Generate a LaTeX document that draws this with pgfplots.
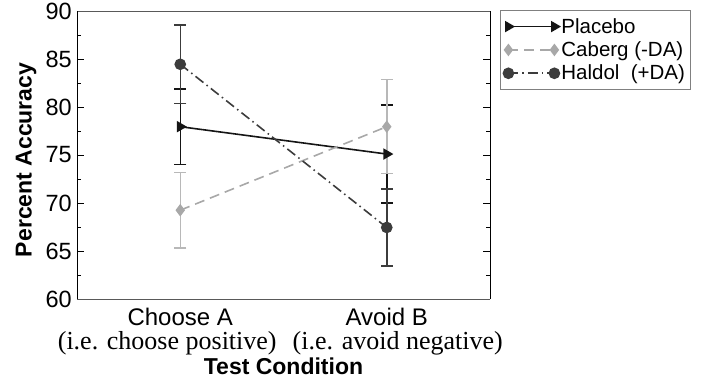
\documentclass[border=0pt]{standalone}
\usepackage{fontspec}
\setmainfont{Liberation Sans}
\newfontfamily\timesfont{Liberation Serif}
\usepackage{pgfplots}
\pgfplotsset{compat=1.18}
\definecolor{haldol}{HTML}{3C3C3C}
\definecolor{caberg}{HTML}{A8A8A8}
\definecolor{cabergerr}{HTML}{B8B8B8}
\definecolor{placebo}{HTML}{151515}
\begin{document}
\begin{tikzpicture}
\path[use as bounding box] (0,0) rectangle (703pt,382pt);
\begin{axis}[
  at={(77pt,83pt)}, anchor=south west,
  scale only axis, width=413pt, height=288pt,
  xmin=-0.5, xmax=1.5, ymin=60, ymax=90,
  xtick={0,1},
  xticklabels={{Choose A\\[-1pt]{\timesfont\fontsize{26}{26}\selectfont\makebox[0pt]{\kern-26pt(i.e. choose positive)}}},
               {Avoid B\\[-1pt]{\timesfont\fontsize{26}{26}\selectfont\makebox[0pt]{\kern22pt(i.e. avoid negative)}}}},
  xticklabel style={align=center, font=\fontsize{24}{25}\selectfont, inner sep=0pt, yshift=-9pt},
  major x tick style={draw=none},
  ytick={60,65,...,90},
  minor y tick num=1,
  ytick pos=both,
  tick align=inside,
  major tick length=7pt, minor tick length=4pt,
  /pgf/number format/assume math mode=true,
  yticklabel style={font=\fontsize{23.5}{25}\selectfont, inner sep=0pt, xshift=-5pt},
  tick style={black, line width=0.8pt},
  axis line style={line width=0.8pt},
  separate axis lines,
  x axis line style={gray!70!black},
  y axis line style={black},
  xlabel={\bfseries Test Condition},
  xlabel style={font=\fontsize{23}{24}\selectfont, at={(axis description cs:0.5,0)}, anchor=base, yshift=-76pt},
  ylabel={\bfseries Percent Accuracy},
  ylabel style={font=\fontsize{23}{24}\selectfont, at={(axis description cs:-0.110,0.483)}, anchor=base, rotate=0},
  legend style={at={(1,1)}, anchor=north west, xshift=10pt, yshift=1pt,
    draw=gray, line width=0.8pt, font=\fontsize{20.5}{22}\selectfont,
    inner xsep=3pt, inner ysep=6pt, row sep=3pt,
    /tikz/every even column/.append style={column sep=5pt}},
  legend cell align=left,
  legend image code/.code={\draw[#1] plot coordinates {(0pt,0pt) (46pt,0pt)};},
  error bars/y dir=both, error bars/y explicit,
  error bars/error mark options={rotate=90, mark size=6pt, line width=1.5pt},
]
\addplot[placebo, line width=1.6pt, mark=triangle*, mark size=5pt,
  mark options={rotate=-90, solid},
  error bars/error bar style={line width=1.5pt, placebo}]
  coordinates {(0,77.95) +- (0,3.95) (1,75.1) +- (0,5.1)};
\addlegendentry{Placebo}
\addplot[caberg, line width=1.6pt, dash pattern=on 10pt off 6pt, mark=diamond*, mark size=5pt,
  mark options={solid},
  error bars/error bar style={line width=1.5pt, cabergerr, solid}]
  coordinates {(0,69.25) +- (0,3.93) (1,77.95) +- (0,4.9)};
\addlegendentry{Caberg (-DA)}
\addplot[haldol, line width=1.6pt, dash pattern=on 10pt off 4pt on 1.5pt off 4pt, mark=*, mark size=5pt,
  mark options={solid},
  error bars/error bar style={line width=1.5pt, haldol, solid}]
  coordinates {(0,84.45) +- (0,4.1) (1,67.45) +- (0,4.0)};
\addlegendentry{Haldol\ \ (+DA)}
\end{axis}
\end{tikzpicture}
\end{document}
